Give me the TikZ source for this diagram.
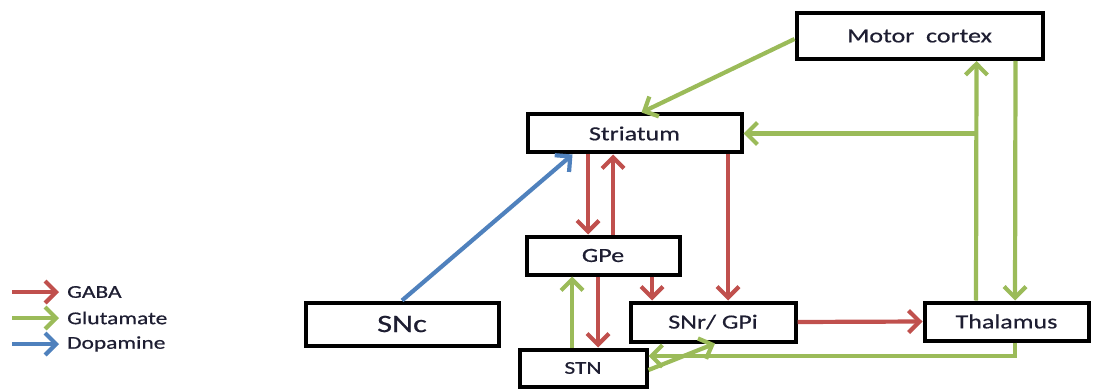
\documentclass[tikz,border=0pt]{standalone}
\usepackage{fontspec}
\setmainfont{Carlito}[FakeStretch=1.3,FakeBold=0.6]
\usetikzlibrary{arrows.meta}
\definecolor{gaba}{RGB}{192,80,77}
\definecolor{glu}{RGB}{155,187,89}
\definecolor{dopa}{RGB}{79,129,189}
\definecolor{txt}{RGB}{30,30,50}
\tikzset{
  box/.style={draw=black, line width=4pt, fill=white, text=txt, inner sep=0pt,
    font=\fontsize{20}{24}\selectfont},
  conn/.style={line width=4.2pt, -{Straight Barb[length=11pt,width=22pt]}},
  gabaarrow/.style={conn, draw=gaba},
  gluarrow/.style={conn, draw=glu},
  dopaarrow/.style={conn, draw=dopa},
  legtext/.style={text=txt, anchor=west, inner sep=0pt, font=\fontsize{18}{21}\selectfont}
}
\begin{document}
\begin{tikzpicture}[x=1pt,y=-1pt]
\useasboundingbox (0,0) rectangle (1094,390);
% nodes
\node[box, minimum width=246pt, minimum height=46pt] (motor) at (919.5,36) {Motor\ \ cortex};
\node[box, minimum width=214pt, minimum height=38pt] (striatum) at (634.5,133.5) {Striatum};
\node[box, minimum width=153pt, minimum height=38pt] (gpe) at (603,255.5) {GPe};
\node[box, minimum width=193pt, minimum height=43pt, font=\fontsize{25}{30}\selectfont] (snc) at (402,324) {SNc};
\node[box, minimum width=165pt, minimum height=39pt] (snr) at (713,322) {SNr/ GPi};
\node[box, minimum width=127pt, minimum height=37pt, font=\fontsize{18}{21}\selectfont] (stn) at (583,368) {STN};
\node[box, minimum width=164pt, minimum height=38pt] (thal) at (1006.5,321.5) {Thalamus};
% helper coordinates
\coordinate (tx) at ([xshift=-30.5pt]thal.north);
\coordinate (br) at (tx |- striatum.east);
% GABA connectors
\draw[gabaarrow] ([xshift=-46.5pt]striatum.south) -- ([xshift=-15pt]gpe.north);
\draw[gabaarrow] ([xshift=10pt]gpe.north) -- ([xshift=-21.5pt]striatum.south);
\draw[gabaarrow] ([xshift=93.5pt]striatum.south) -- ([xshift=15pt]snr.north);
\draw[gabaarrow] ([xshift=49pt]gpe.south) -- ([xshift=-61pt]snr.north);
\draw[gabaarrow] ([xshift=-5pt]gpe.south) -- ([xshift=15pt]stn.north);
\draw[gabaarrow] (snr.east) -- (thal.west);
% Glutamate connectors
\draw[gluarrow] ([xshift=-11pt]stn.north) -- ([xshift=-31pt]gpe.south);
\draw[gluarrow] ([yshift=-2pt]stn.east) -- ([xshift=2pt]snr.south);
\draw[gluarrow] ([yshift=-3pt]motor.west) -- ([xshift=7pt]striatum.north);
\draw[gluarrow] ([xshift=96pt]motor.south) -- ([xshift=8.5pt]thal.north);
\draw[gluarrow] (tx) -- ([xshift=57pt]motor.south);
\draw[gluarrow] (br) -- (striatum.east);
\draw[gluarrow] ([xshift=8.5pt]thal.south) |- ([yshift=12pt]stn.east);
% Dopamine
\draw[dopaarrow] (snc.north) -- ([xshift=-62pt]striatum.south);
% legend
\node[legtext] (lg1) at (67,292) {GABA};
\node[legtext] (lg2) at (67,318) {Glutamate};
\node[legtext] (lg3) at (67,344) {Dopamine};
\draw[gabaarrow] ([xshift=-55pt]lg1.west) -- ([xshift=-8pt]lg1.west);
\draw[gluarrow] ([xshift=-55pt]lg2.west) -- ([xshift=-8pt]lg2.west);
\draw[dopaarrow] ([xshift=-55pt]lg3.west) -- ([xshift=-8pt]lg3.west);
\end{tikzpicture}
\end{document}
